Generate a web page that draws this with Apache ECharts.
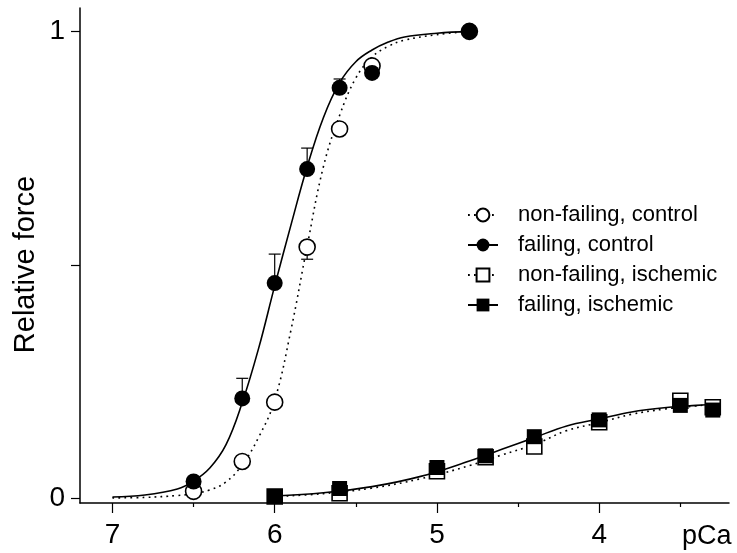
<!DOCTYPE html>
<html>
<head>
<meta charset="utf-8">
<script src="https://cdn.jsdelivr.net/npm/echarts@6/dist/echarts.min.js"></script>
<style>
	html, body { margin: 0; padding: 0; background: #fff; }
	#chart { width: 737px; height: 553px; }
</style>
</head>
<body>
<div id="chart"></div>
<script>
// measured points (pCa, relative force)
var pCaCtrl = [6.5, 6.2, 6.0, 5.8, 5.6, 5.4, 4.8];
var nonFailingCtrl = [0.015, 0.079, 0.206, 0.538, 0.791, 0.926, 1.0];
var failingCtrl = [0.036, 0.214, 0.461, 0.705, 0.879, 0.911, 1.0];
var failingCtrlErr = [0, 0.043, 0.062, 0.045, 0.019, 0, 0];
var nonFailingCtrlErr = [0, 0, 0, -0.026, 0, 0, 0];

var pCaIsch = [6.0, 5.6, 5.0, 4.7, 4.4, 4.0, 3.5, 3.3];
var nonFailingIsch = [0.004, 0.011, 0.058, 0.088, 0.111, 0.163, 0.209, 0.195];
var failingIsch = [0.004, 0.021, 0.066, 0.091, 0.132, 0.168, 0.199, 0.189];

// fitted curves
var ctrlCurvePCa = [7.0, 6.8, 6.6, 6.5, 6.4, 6.3, 6.2, 6.1, 6.0, 5.9, 5.8, 5.7, 5.6, 5.5, 5.4, 5.3, 5.2, 5.0, 4.8];
var failingCtrlCurve = [0.003, 0.007, 0.02, 0.037, 0.065, 0.115, 0.205, 0.32, 0.455, 0.585, 0.71, 0.815, 0.89, 0.935, 0.96, 0.977, 0.988, 0.996, 1.0];
var nonFailingCtrlCurve = [0.001, 0.002, 0.006, 0.01, 0.018, 0.035, 0.072, 0.13, 0.21, 0.36, 0.54, 0.71, 0.82, 0.9, 0.945, 0.968, 0.981, 0.993, 1.0];

var ischCurvePCa = [6.0, 5.7, 5.4, 5.1, 4.8, 4.6, 4.4, 4.2, 4.0, 3.8, 3.6, 3.4, 3.25];
var failingIschCurve = [0.005, 0.012, 0.025, 0.047, 0.08, 0.105, 0.13, 0.155, 0.17, 0.185, 0.194, 0.199, 0.202];
var nonFailingIschCurve = [0.004, 0.01, 0.022, 0.042, 0.07, 0.093, 0.115, 0.145, 0.162, 0.18, 0.191, 0.198, 0.203];

var xMajorTicks = [7, 6, 5, 4];
var xMinorTicks = [6.5, 5.5, 4.5, 3.5];
var yTicks = [0, 0.5, 1];
var yLabels = [0, 1];

var seriesNames = ['non-failing, control', 'failing, control', 'non-failing, ischemic', 'failing, ischemic'];

function pairs(xs, ys) {
	var out = [];
	for (var i = 0; i < xs.length; i++) out.push([xs[i], ys[i]]);
	return out;
}
function triples(xs, ys, es) {
	var out = [];
	for (var i = 0; i < xs.length; i++) {
		if (es[i] != 0) out.push([xs[i], ys[i], es[i]]);
	}
	return out;
}

var font = "'Liberation Sans', Arial, sans-serif";
var dots = [1.8, 4.2];

function curve(name, xs, ys, symbol, dotted) {
	return {
		name: name,
		type: 'line',
		data: pairs(xs, ys),
		smooth: 0.4,
		showSymbol: false,
		symbol: symbol,
		silent: true,
		color: '#000',
		lineStyle: { color: '#000', width: 1.6, type: dotted ? dots : 'solid' },
		z: 2
	};
}

function points(name, xs, ys, symbol, size, open) {
	return {
		name: name,
		type: 'scatter',
		data: pairs(xs, ys),
		symbol: symbol,
		symbolSize: size,
		itemStyle: open ? { color: '#fff', borderColor: '#000', borderWidth: 1.6, opacity: 1 } : { color: '#000', opacity: 1 },
		z: 4
	};
}

function errorBar(params, api) {
	var x = api.value(0), y = api.value(1), e = api.value(2);
	var p0 = api.coord([x, y]);
	var p1 = api.coord([x, y + e]);
	var st = { stroke: '#000', lineWidth: 1.2 };
	return {
		type: 'group',
		children: [
			{ type: 'line', shape: { x1: p0[0], y1: p0[1], x2: p1[0], y2: p1[1] }, style: st },
			{ type: 'line', shape: { x1: p1[0] - 6, y1: p1[1], x2: p1[0] + 6, y2: p1[1] }, style: st }
		]
	};
}

var dom = document.getElementById('chart');
var myChart = echarts.init(dom, null, { renderer: 'canvas' });

var option = {
	animation: false,
	backgroundColor: '#fff',
	textStyle: { fontFamily: font, color: '#000' },
	grid: { left: 80, right: 8, top: 8, bottom: 50, containLabel: false },
	legend: {
		data: seriesNames,
		orient: 'vertical',
		left: 462,
		top: 199,
		itemWidth: 30,
		itemHeight: 16,
		itemGap: 8,
		selectedMode: false,
		textStyle: { fontSize: 22, color: '#000', fontFamily: font, padding: [0, 0, 0, 15] }
	},
	xAxis: [{
		type: 'value',
		inverse: true,
		min: 3.2,
		max: 7.2,
		position: 'bottom',
		axisLine: { onZero: false, lineStyle: { color: '#000', width: 1.5 } },
		axisTick: { show: true, length: 10, customValues: xMajorTicks, lineStyle: { color: '#000', width: 1.2 } },
		axisLabel: { customValues: xMajorTicks, fontSize: 28, color: '#000', margin: 18, fontFamily: font },
		splitLine: { show: false }
	}, {
		type: 'value',
		inverse: true,
		min: 3.2,
		max: 7.2,
		position: 'bottom',
		axisLine: { show: false, onZero: false },
		axisTick: { show: true, length: 4, customValues: xMinorTicks, lineStyle: { color: '#000', width: 1.2 } },
		axisLabel: { show: false },
		splitLine: { show: false }
	}],
	yAxis: {
		type: 'value',
		min: -0.01,
		max: 1.05,
		name: 'Relative force',
		nameLocation: 'middle',
		nameGap: 40,
		nameMoveOverlap: false,
		nameTextStyle: { fontSize: 29, color: '#000', fontFamily: font, padding: [0, 18, 0, 0] },
		axisLine: { onZero: false, lineStyle: { color: '#000', width: 1.5 } },
		axisTick: { show: true, length: 9, customValues: yTicks, lineStyle: { color: '#000', width: 1.2 } },
		axisLabel: { customValues: yLabels, fontSize: 28, color: '#000', margin: 15, fontFamily: font },
		splitLine: { show: false }
	},
	graphic: [{
		type: 'text',
		left: 682,
		top: 523,
		style: { text: 'pCa', font: "27px 'Liberation Sans', Arial, sans-serif", fill: '#000' }
	}],
	series: [
		curve(seriesNames[0], ctrlCurvePCa, nonFailingCtrlCurve, 'emptyCircle', true),
		curve(seriesNames[1], ctrlCurvePCa, failingCtrlCurve, 'circle', false),
		curve(seriesNames[2], ischCurvePCa, nonFailingIschCurve, 'emptyRect', true),
		curve(seriesNames[3], ischCurvePCa, failingIschCurve, 'rect', false),
		{
			type: 'custom',
			renderItem: errorBar,
			data: triples(pCaCtrl, nonFailingCtrl, nonFailingCtrlErr).concat(triples(pCaCtrl, failingCtrl, failingCtrlErr)),
			silent: true,
			z: 3
		},
		points(seriesNames[0], pCaCtrl, nonFailingCtrl, 'circle', 16, true),
		points(seriesNames[2], pCaIsch, nonFailingIsch, 'rect', 15, true),
		points(seriesNames[1], pCaCtrl, failingCtrl, 'circle', 16, false),
		points(seriesNames[3], pCaIsch, failingIsch, 'rect', 15, false)
	]
};

myChart.setOption(option);
</script>
</body>
</html>
